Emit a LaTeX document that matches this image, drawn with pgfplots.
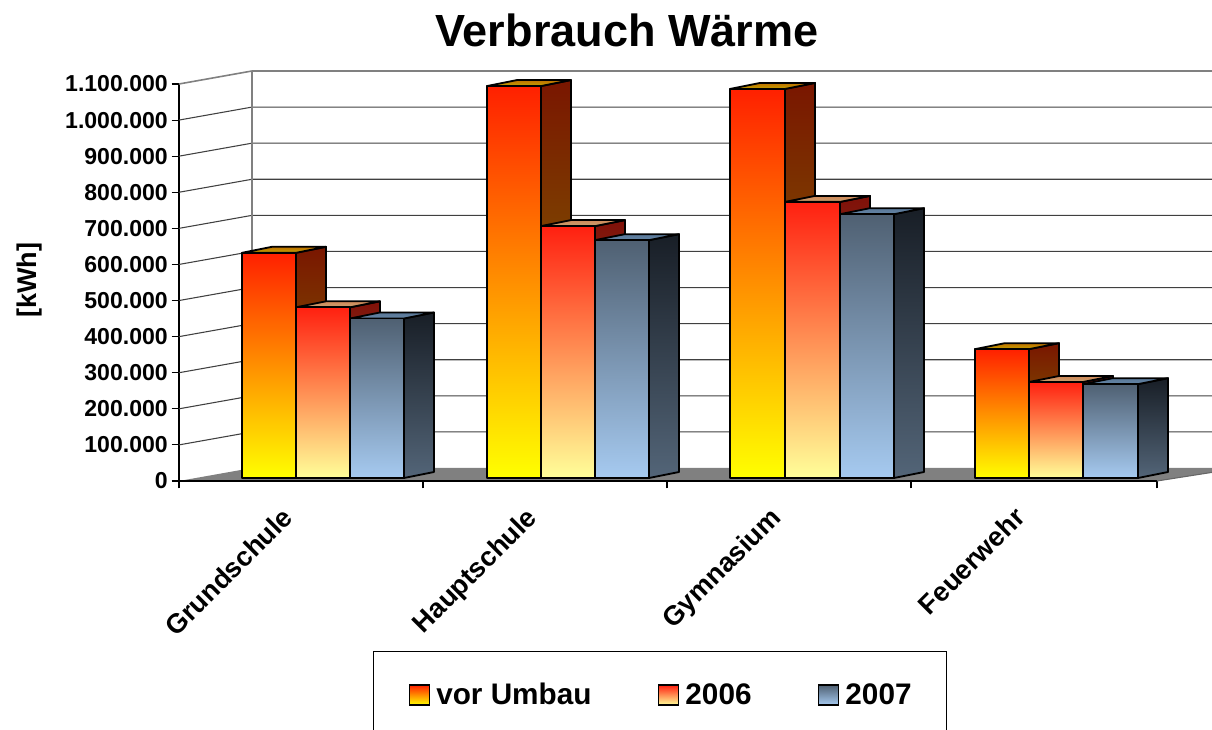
\documentclass[border=0pt]{standalone}
\usepackage{fontspec}
\setmainfont{Liberation Sans}
\usepackage{pgfplots}
\pgfplotsset{compat=1.18}
\definecolor{fA}{HTML}{FF2000}\definecolor{fB}{HTML}{FFFF00}
\definecolor{sA}{HTML}{7A1600}\definecolor{sB}{HTML}{808000}
\definecolor{tA}{HTML}{C07000}\definecolor{tB}{HTML}{C0A000}
\definecolor{gA}{HTML}{FF2010}\definecolor{gB}{HTML}{FFFF99}
\definecolor{hA}{HTML}{801008}\definecolor{hB}{HTML}{80804C}
\definecolor{iA}{HTML}{D08858}\definecolor{iB}{HTML}{C8A070}
\definecolor{bA}{HTML}{4F6072}\definecolor{bB}{HTML}{A6CAF0}
\definecolor{cA}{HTML}{181E26}\definecolor{cB}{HTML}{536578}
\definecolor{dA}{HTML}{5A7898}\definecolor{dB}{HTML}{6484A4}
% \ThreeDBar{x0}{x1}{value in kWh}{colour prefix front}{side}{top}
\newcommand\ThreeDBar[6]{%
  \edef\vbb{\the\numexpr 8300\relax}%
  \edef\vbd{\the\numexpr 8300+16620\relax}%
  \edef\vtt{\the\numexpr #3+8300\relax}%
  \edef\vtd{\the\numexpr #3+8300+16620\relax}%
  \edef\vxd{\the\numexpr #2+30\relax}%
  \edef\vxe{\the\numexpr #1+30\relax}%
  \addplot[forget plot,draw=black,line width=1.35pt,line join=round,top color=#5A,bottom color=#5B] coordinates {(#2,\vbb) (\vxd,\vbd) (\vxd,\vtd) (#2,\vtt)} -- cycle;
  \addplot[forget plot,draw=black,line width=1.35pt,line join=round,top color=#6A,bottom color=#6B] coordinates {(#1,\vtt) (#2,\vtt) (\vxd,\vtd) (\vxe,\vtd)} -- cycle;
  \addplot[forget plot,draw=black,line width=1.35pt,line join=round,top color=#4A,bottom color=#4B] coordinates {(#1,\vbb) (#2,\vbb) (#2,\vtt) (#1,\vtt)} -- cycle;
}
\newcommand\GridL[1]{%
  \edef\gv{\the\numexpr #1+36020\relax}%
  \addplot[forget plot,color=black!75,line width=0.8pt] coordinates {(179,#1) (252,\gv) (1240,\gv)};
}
\begin{document}
\begin{tikzpicture}
\useasboundingbox (0,0) rectangle (909pt,547.5pt);
\clip (0,0) rectangle (909pt,547.5pt);
\begin{axis}[
  at={(134.25pt,186.75pt)},anchor=origin,
  scale only axis,width=733.5pt,height=297.75pt,
  xmin=179,xmax=1157,ymin=0,ymax=1100000,
  clip=false,
  axis lines=left,axis line style={-,black,line width=0.8pt},
  tick align=outside,major tick length=5.5pt,
  tick style={black,line width=0.8pt},
  scaled y ticks=false,
  ytick={0,100000,200000,300000,400000,500000,600000,700000,800000,900000,1000000,1100000},
  /pgf/number format/fixed,
  /pgf/number format/assume math mode=true,
  /pgf/number format/1000 sep={.},
  yticklabel style={font=\bfseries\fontsize{17.3}{20}\selectfont,inner sep=2pt,xshift=-0.7pt},
  xtick={179,423,667,911,1157},xticklabels={},
  extra x ticks={301,545,789,1033},
  extra x tick labels={Grundschule,Hauptschule,Gymnasium,Feuerwehr},
  extra x tick style={major tick length=0pt,tick label style={font=\bfseries\fontsize{20.3}{24}\selectfont,rotate=45,anchor=north east,inner sep=0pt,yshift=-2.1pt,xshift=-23.6pt}},
  title={Verbrauch Wärme},
  title style={at={(axis description cs:0.458,1.116)},anchor=center,font=\bfseries\fontsize{33.8}{38}\selectfont,inner sep=0pt},
  ylabel={[kWh]},
  ylabel style={at={(axis description cs:-0.153,0.506)},anchor=center,rotate=0,font=\bfseries\fontsize{20.3}{24}\selectfont,inner sep=0pt},
  legend columns=3,
  legend cell align=left,
  legend style={at={(0.4918,-0.539)},anchor=center,draw=black,line width=0.75pt,font=\bfseries\fontsize{22.3}{25}\selectfont,
    inner xsep=24.5pt,inner ysep=22pt,
    /tikz/every even column/.append style={column sep=48pt},
    /tikz/every odd column/.append style={column sep=2.5pt}},
]
% floor and walls
\addplot[forget plot,fill=black!50,draw=none] coordinates {(179,0) (252,36020) (1240,36020) (1157,0)} -- cycle;
\GridL{100000}\GridL{200000}\GridL{300000}\GridL{400000}\GridL{500000}\GridL{600000}\GridL{700000}\GridL{800000}\GridL{900000}\GridL{1000000}
\addplot[forget plot,color=black!50,line width=1.5pt] coordinates {(252,36020) (252,1136020)};
\addplot[forget plot,color=black!50,line width=1.2pt] coordinates {(179,1100000) (252,1136020) (1240,1136020)};
\addplot[forget plot,color=black,line width=0.8pt] coordinates {(179,0) (1157,0)};
\addplot[forget plot,color=black!60,line width=0.8pt] coordinates {(1157,0) (1240,36020)};
% Grundschule
\ThreeDBar{242}{296}{624000}{f}{s}{t}
\ThreeDBar{296}{350}{473000}{g}{h}{i}
\ThreeDBar{350}{404}{442000}{b}{c}{d}
% Hauptschule
\ThreeDBar{487}{541}{1086000}{f}{s}{t}
\ThreeDBar{541}{595}{698000}{g}{h}{i}
\ThreeDBar{595}{649}{659000}{b}{c}{d}
% Gymnasium
\ThreeDBar{730}{785}{1078000}{f}{s}{t}
\ThreeDBar{785}{840}{765000}{g}{h}{i}
\ThreeDBar{840}{894}{731000}{b}{c}{d}
% Feuerwehr
\ThreeDBar{975}{1029}{357000}{f}{s}{t}
\ThreeDBar{1029}{1083}{266000}{g}{h}{i}
\ThreeDBar{1083}{1138}{260000}{b}{c}{d}
% legend
\addlegendimage{legend image code/.code={\path (-2.6pt,0pt);\draw[black,line width=0.9pt,top color=fA,bottom color=fB] (0pt,-7.5pt) rectangle (15pt,7.5pt);}}
\addlegendentry{vor Umbau}
\addlegendimage{legend image code/.code={\draw[black,line width=0.9pt,top color=gA,bottom color=gB] (0pt,-7.5pt) rectangle (15pt,7.5pt);}}
\addlegendentry{2006}
\addlegendimage{legend image code/.code={\draw[black,line width=0.9pt,top color=bA,bottom color=bB] (0pt,-7.5pt) rectangle (15pt,7.5pt);}}
\addlegendentry{2007}
\end{axis}
\end{tikzpicture}
\end{document}
